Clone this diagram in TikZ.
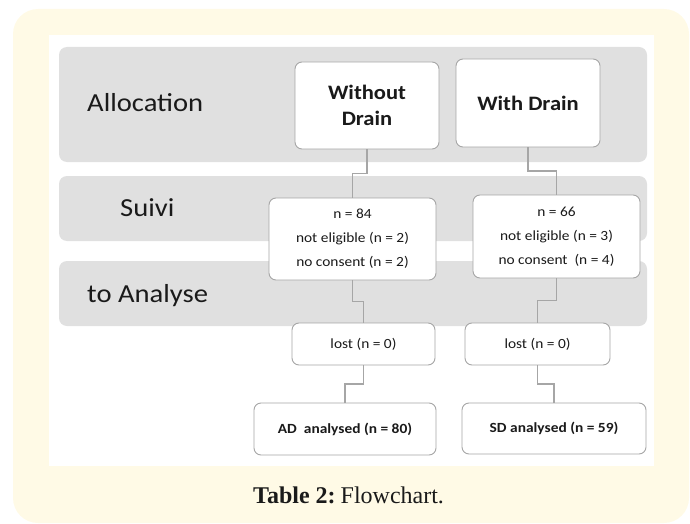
\documentclass[tikz,border=0pt]{standalone}
\usepackage{fontspec}
\setmainfont{Carlito}[FakeStretch=1.1]
\newfontfamily\capfont{Liberation Serif}
\usetikzlibrary{calc}
\definecolor{cream}{HTML}{FFFAE6}
\definecolor{bandgray}{HTML}{E0E0E0}
\definecolor{linegray}{HTML}{A6A6A6}
\definecolor{ink}{HTML}{1A1A1A}
\tikzset{
  band/.style={fill=bandgray, draw=none, rounded corners=8pt},
  bandlabel/.style={anchor=base west, inner sep=0pt, text=ink, font=\fontsize{26}{30}\selectfont},
  box/.style={draw=linegray, line width=0.9pt, fill=white, rounded corners=7pt, inner sep=0pt, align=center, text=ink},
  titlebox/.style={box, font=\bfseries\fontsize{20.5}{25.5}\selectfont},
  infobox/.style={box, font=\fontsize{14}{24}\selectfont},
  resultbox/.style={box, font=\bfseries\fontsize{14}{17}\selectfont},
  conn/.style={draw=linegray, line width=1.4pt}
}
\newcommand\jogline[2]{%
  \coordinate (m#1#2) at ($(#1.south)!0.5!(#2.north)$);
  \draw[conn] (#1.south) |- (m#1#2 -| #2.north) -- (#2.north);}
\begin{document}
\begin{tikzpicture}[x=1pt,y=-1pt]
\useasboundingbox (0,0) rectangle (690,524);
% frames
\fill[cream, rounded corners=25pt] (13,9) rectangle (689,523);
\fill[white] (49,35) rectangle (654,466);
% bands
\fill[band] (59,47) rectangle (647,162);
\fill[band] (59,176) rectangle (647,241);
\fill[band] (59,261) rectangle (647,326);
\node[bandlabel] (lalloc) at (87,112) {Allocation};
\node[bandlabel] (lsuivi) at (120,216) {Suivi};
\node[bandlabel] (lana) at (87,302) {to Analyse};
% boxes
\node[titlebox, minimum width=144pt, minimum height=87pt] (wd) at (367,105.5) {Without\\Drain};
\node[titlebox, minimum width=144pt, minimum height=88pt] (sd) at (528,103) {With Drain};
\node[infobox, minimum width=167pt, minimum height=82pt] (n84) at (352.5,239) {n = 84\\not eligible (n = 2)\\no consent (n = 2)};
\node[infobox, minimum width=167pt, minimum height=83pt] (n66) at (556.5,236.5) {n = 66\\not eligible (n = 3)\\no consent\ \ (n = 4)};
\node[infobox, minimum width=143pt, minimum height=42pt] (lostA) at (363.5,344) {lost (n = 0)};
\node[infobox, minimum width=145pt, minimum height=42pt] (lostB) at (537.5,344) {lost (n = 0)};
\node[resultbox, minimum width=182pt, minimum height=52pt] (ad) at (345,429) {AD\ \ analysed (n = 80)};
\node[resultbox, minimum width=184pt, minimum height=51pt] (sda) at (554,428.5) {SD analysed (n = 59)};
% connectors
\jogline{wd}{n84}
\jogline{sd}{n66}
\jogline{n84}{lostA}
\jogline{n66}{lostB}
\jogline{lostA}{ad}
\jogline{lostB}{sda}
% caption
\node[anchor=base west, inner sep=0pt, text=ink, font=\capfont\fontsize{24}{28}\selectfont] (cap) at (253,503) {\textbf{Table 2:}\hspace{-3pt} Flowchart.};
\end{tikzpicture}
\end{document}
